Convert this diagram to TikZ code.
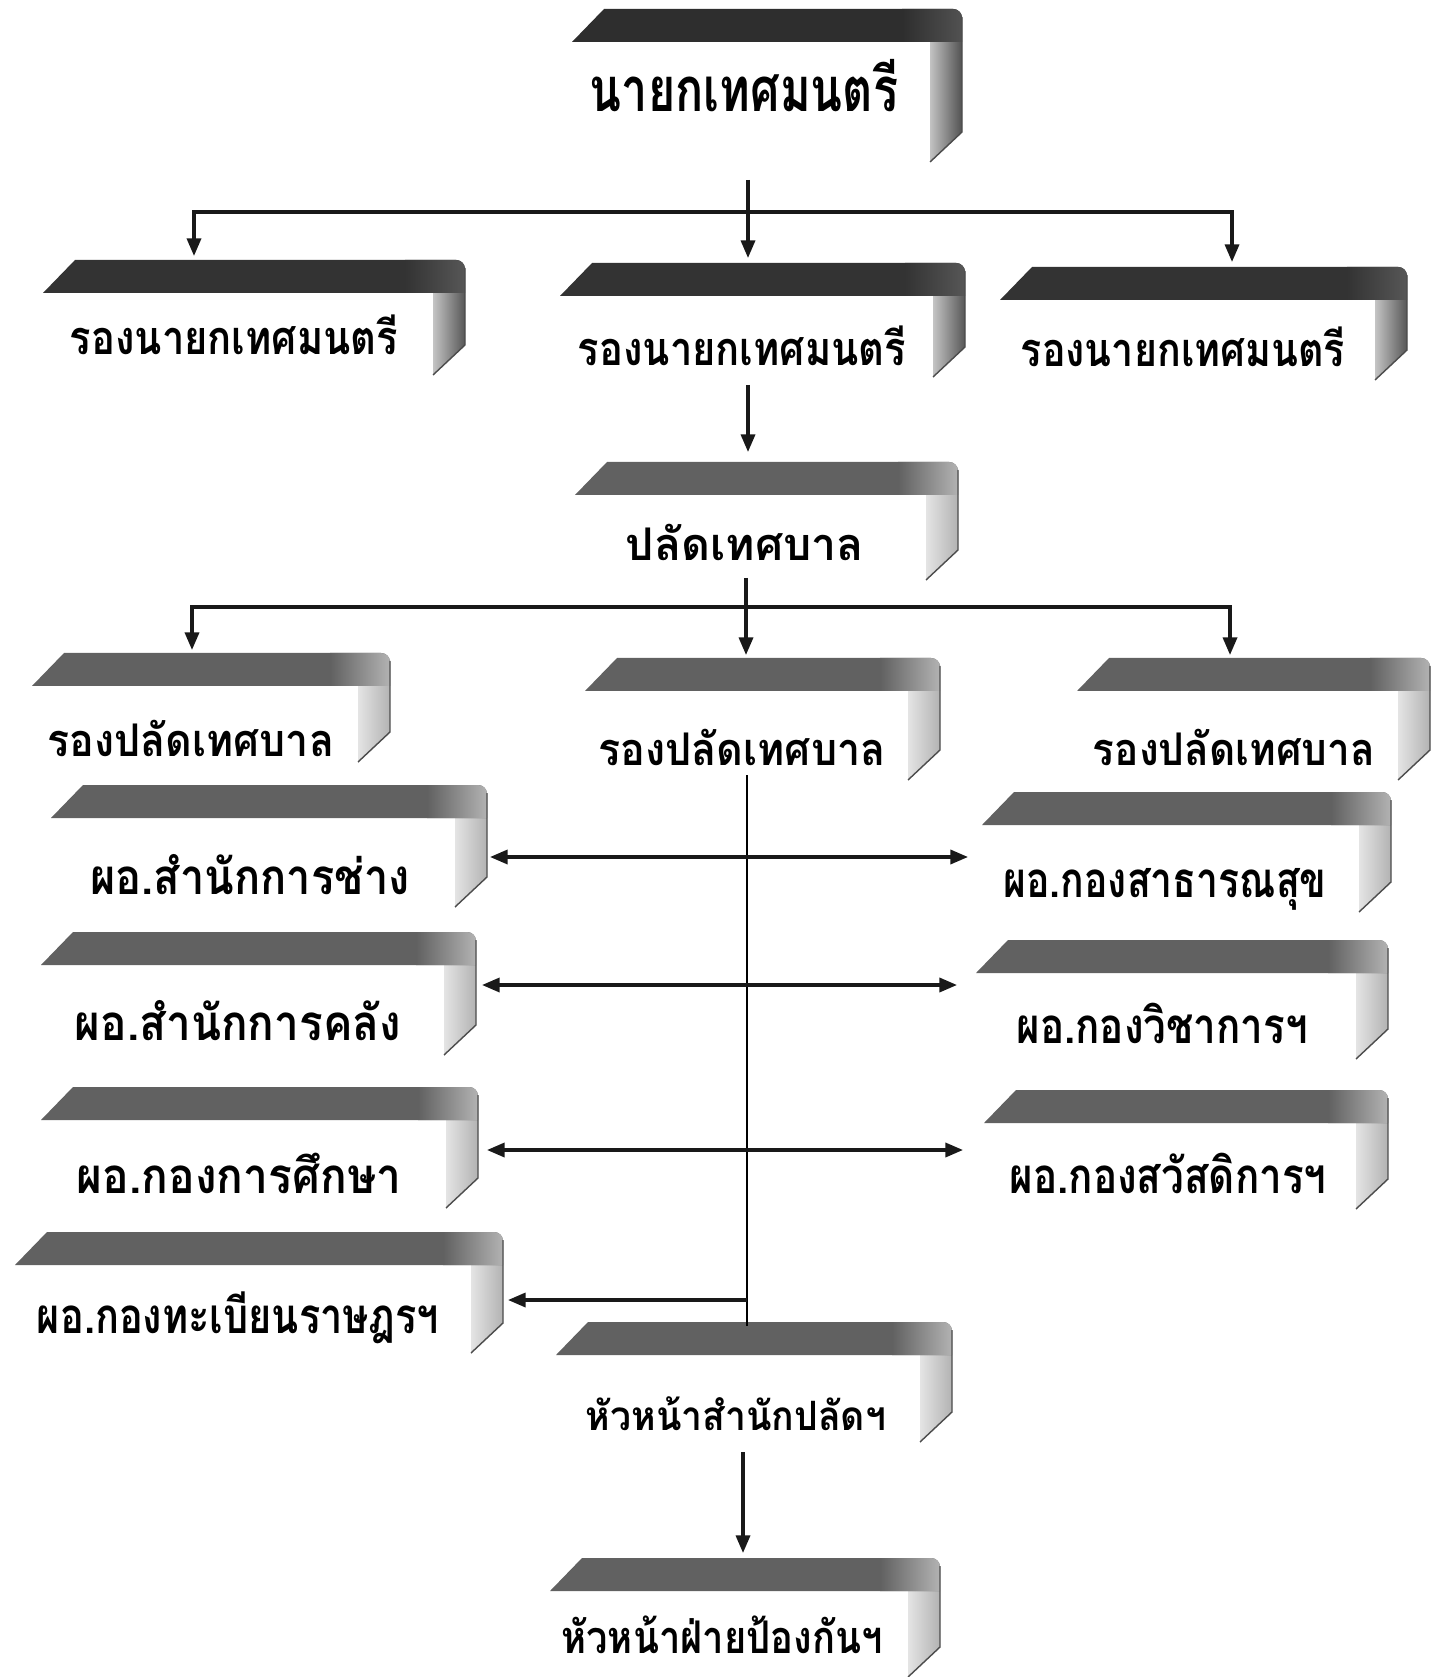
\documentclass[tikz,border=0pt]{standalone}
\usepackage{fontspec}
\usepackage{graphicx}
\newfontfamily\thaifont[Script=Thai]{Loma}
\usetikzlibrary{arrows.meta}

% band and panel tones per level
\colorlet{chiefband}{black!82}   \colorlet{chiefpanel}{black!68}
\colorlet{deputyband}{black!80}  \colorlet{deputypanel}{black!66}
\colorlet{staffband}{black!62}   \colorlet{staffpanel}{black!30}
\colorlet{headband}{black!62}    \colorlet{headpanel}{black!30}
\colorlet{minorband}{black!62}   \colorlet{minorpanel}{black!30}

\tikzset{
  link/.style={line width=0.9pt, black!90},
  arr/.style={link, -{Triangle[length=5pt,width=4pt]}},
  dblarr/.style={link, {Triangle[length=5pt,width=4pt]}-{Triangle[length=5pt,width=4pt]}},
  spine/.style={line width=0.7pt, black},
  label/.style={inner sep=0pt, anchor=base},
  chieftext/.style={label, font=\thaifont\bfseries\fontsize{17.5}{19}\selectfont},
  deputytext/.style={label, font=\thaifont\bfseries\fontsize{13.3}{15}\selectfont},
  stafftext/.style={label, font=\thaifont\bfseries\fontsize{12.8}{14}\selectfont},
  headtext/.style={label, font=\thaifont\bfseries\fontsize{14}{16}\selectfont},
  minortext/.style={label, font=\thaifont\bfseries\fontsize{11.5}{13}\selectfont},
}

% squeeze a text to a given width (in picture pixels)
\newlength\txtw
\newcommand{\fitw}[2]{\settowidth{\txtw}{#2}%
  \pgfmathsetmacro\sx{#1*0.28453/\txtw}\scalebox{\sx}[1]{#2}}

% folded box: #1 name, #2 level, #3 left, #4 top, #5 right, #6 bottom, #7 text x,y, #8 text width, #9 text
\newcommand{\orgbox}[9]{%
  \shade[left color=#2panel!35, right color=#2panel]
    ({#5-32},{#4+33}) -- ({#5},{#4+33}) -- ({#5},{#6-30}) -- ({#5-32},{#6}) -- cycle;
  \fill[#2band] ({#3},{#4+33}) -- ({#3+32},{#4}) [rounded corners=2.5pt]-- ({#5},{#4})
    [sharp corners]-- ({#5},{#4+33}) -- cycle;
  \shade[left color=#2band, right color=#2panel]
    ({#5-60},{#4}) [rounded corners=2.5pt]-- ({#5},{#4}) [sharp corners]-- ({#5},{#4+33})
    -- ({#5-60},{#4+33}) -- cycle;
  \draw[black!70, line width=0.4pt] ({#5},{#4+8}) -- ({#5},{#6-30}) -- ({#5-32},{#6});
  \node[#2text] (#1) at (#7) {\fitw{#8}{#9}};
}

\begin{document}
\begin{tikzpicture}[x=0.01cm, y=-0.01cm]
\fill[white] (0,0) rectangle (1443,1677);
\useasboundingbox (0,0) rectangle (1443,1677);

% boxes
\orgbox{mayor}{chief}{572}{9}{962}{162}{744,112}{308}{นายกเทศมนตรี}
\orgbox{depL}{deputy}{43}{260}{465}{375}{234,355}{328}{รองนายกเทศมนตรี}
\orgbox{depM}{deputy}{560}{263}{965}{377}{742,366}{328}{รองนายกเทศมนตรี}
\orgbox{depR}{deputy}{1000}{267}{1407}{380}{1183,367}{324}{รองนายกเทศมนตรี}
\orgbox{clerk}{staff}{575}{462}{958}{580}{745,561}{238}{ปลัดเทศบาล}
\orgbox{vcL}{staff}{32}{653}{390}{762}{191,757}{286}{รองปลัดเทศบาล}
\orgbox{vcM}{staff}{585}{658}{940}{780}{742,765}{287}{รองปลัดเทศบาล}
\orgbox{vcR}{staff}{1077}{658}{1430}{780}{1234,765}{282}{รองปลัดเทศบาล}
\orgbox{eng}{head}{51}{785}{487}{907}{250,894}{319}{ผอ.สำนักการช่าง}
\orgbox{fin}{head}{41}{932}{476}{1055}{238,1040}{326}{ผอ.สำนักการคลัง}
\orgbox{edu}{head}{41}{1087}{478}{1208}{239,1193}{324}{ผอ.กองการศึกษา}
\orgbox{reg}{head}{15}{1232}{503}{1353}{238,1333}{402}{ผอ.กองทะเบียนราษฎรฯ}
\orgbox{health}{head}{982}{792}{1391}{912}{1165,897}{323}{ผอ.กองสาธารณสุข}
\orgbox{acad}{head}{976}{940}{1388}{1059}{1162,1043}{291}{ผอ.กองวิชาการฯ}
\orgbox{welf}{head}{984}{1090}{1388}{1209}{1168,1193}{317}{ผอ.กองสวัสดิการฯ}
\orgbox{office}{minor}{556}{1322}{952}{1442}{736,1430}{300}{หัวหน้าสำนักปลัดฯ}
\orgbox{guard}{staff}{550}{1558}{940}{1677}{722,1653}{321}{หัวหน้าฝ่ายป้องกันฯ}

% connector points
\coordinate (mayor-out) at (748,180);
\coordinate (bus-a) at (748,212);
\coordinate (depL-in) at (194,256);
\coordinate (depM-in) at (748,258);
\coordinate (depR-in) at (1232,262);
\coordinate (depM-out) at (748,385);
\coordinate (clerk-in) at (748,452);
\coordinate (clerk-out) at (746,578);
\coordinate (bus-b) at (746,607);
\coordinate (vcL-in) at (192,650);
\coordinate (vcM-in) at (746,655);
\coordinate (vcR-in) at (1230,655);
\coordinate (vcM-out) at (747,775);
\coordinate (office-in) at (747,1326);
\coordinate (eng-e) at (490,857);
\coordinate (health-w) at (968,857);
\coordinate (fin-e) at (482,985);
\coordinate (acad-w) at (957,985);
\coordinate (edu-e) at (487,1150);
\coordinate (welf-w) at (963,1150);
\coordinate (spine-r) at (747,1300);
\coordinate (reg-e) at (508,1300);
\coordinate (office-out) at (743,1452);
\coordinate (guard-in) at (743,1553);

% connectors
\draw[link] (mayor-out) -- (bus-a);
\draw[arr] (bus-a) -- (depM-in);
\draw[arr] (bus-a) -| (depL-in);
\draw[arr] (bus-a) -| (depR-in);
\draw[arr] (depM-out) -- (clerk-in);
\draw[link] (clerk-out) -- (bus-b);
\draw[arr] (bus-b) -- (vcM-in);
\draw[arr] (bus-b) -| (vcL-in);
\draw[arr] (bus-b) -| (vcR-in);
\draw[spine] (vcM-out) -- (office-in);
\draw[dblarr] (eng-e) -- (health-w);
\draw[dblarr] (fin-e) -- (acad-w);
\draw[dblarr] (edu-e) -- (welf-w);
\draw[arr] (spine-r) -- (reg-e);
\draw[arr] (office-out) -- (guard-in);
\end{tikzpicture}
\end{document}
